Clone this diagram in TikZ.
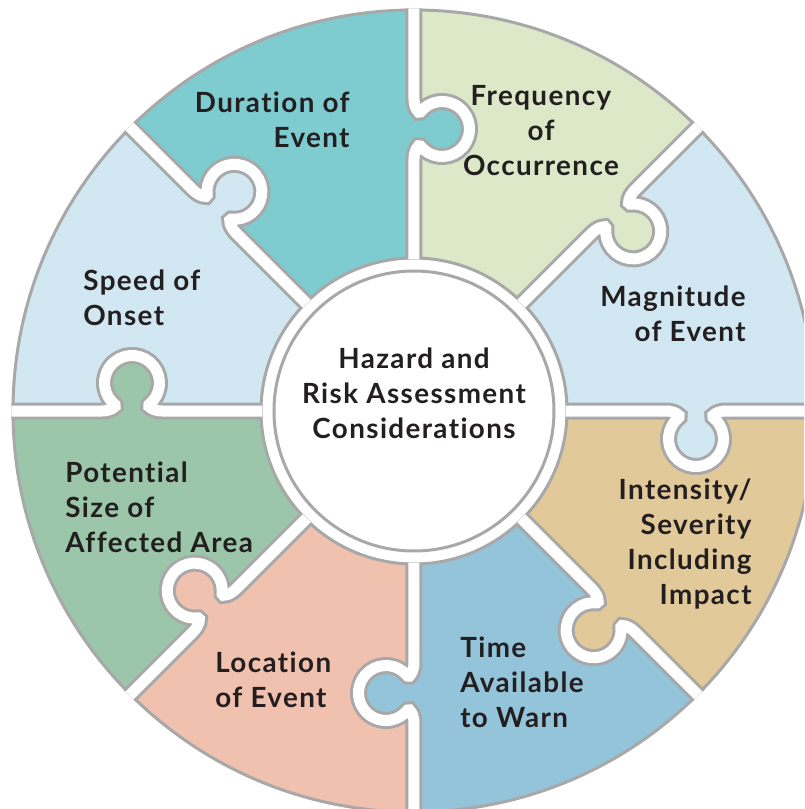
\documentclass[tikz,border=0pt]{standalone}
\usepackage{fontspec}
\setmainfont{Lato}[Ligatures=NoCommon,LetterSpace=5]
\usepackage{tikz}

\definecolor{durcol}{RGB}{126,203,208}
\definecolor{freqcol}{RGB}{220,232,200}
\definecolor{magcol}{RGB}{209,231,242}
\definecolor{intcol}{RGB}{226,201,154}
\definecolor{timecol}{RGB}{148,196,217}
\definecolor{loccol}{RGB}{240,193,174}
\definecolor{potcol}{RGB}{155,198,169}
\definecolor{rimgray}{RGB}{168,168,168}
\definecolor{ink}{RGB}{35,31,32}

% puzzle tab along a seam, seam runs along +x
\newcommand{\tab}{(252,0) .. controls (260,0) and (267.4,-4.5) .. (265,-6.4)
  arc[start angle=128.2,end angle=411.8,radius=27.5]
  .. controls (296.6,-4.5) and (304,0) .. (312,0)}

\tikzset{lbl/.style={font=\bfseries\fontsize{13.9}{17.5}\selectfont,inner sep=0pt,text=ink}}

\begin{document}
\begin{tikzpicture}[x=0.5pt,y=0.5pt]
\useasboundingbox (-414,-398) rectangle (390,411);
\clip (-414,-398) rectangle (390,411);

% Pieces
\foreach \a/\c in {0/magcol,45/freqcol,90/durcol,135/magcol,180/potcol,225/loccol,270/timecol,315/intcol}
  \fill[\c] (\a:153) arc[start angle=\a,end angle=\a+45,radius=153] -- (\a+45:401)
    arc[start angle=\a+45,end angle=\a,radius=401] -- cycle;

% Tabs
\foreach \a/\c in {0/magcol,45/freqcol,90/durcol,135/magcol,180/potcol,225/loccol,270/timecol,315/intcol}
  \fill[\c,rotate=\a] \tab -- cycle;

% Rims
\draw[rimgray,line width=1.5pt] (0,0) circle[radius=401] (0,0) circle[radius=153];

% Seams
\foreach \a in {0,45,...,315} {
  \draw[rimgray,line width=8.5pt,rotate=\a] (151.5,0) -- \tab -- (402.5,0);
  \draw[white,line width=5.5pt,rotate=\a] (151.5,0) -- \tab -- (402.5,0);
}

% Hub
\draw[rimgray,line width=1.5pt,fill=white] (0,0) circle[radius=140];

% Labels
\node[lbl,align=center] (hub) at (0,18) {Hazard and\\Risk Assessment\\Considerations};
\node[lbl,align=right,anchor=east] (dur) at (-64,291) {Duration of\\Event};
\node[lbl,align=center] (freq) at (127,280) {Frequency\\of\\Occurrence};
\node[lbl,align=right,anchor=east] (mag) at (332,97) {Magnitude\\of Event};
\node[lbl,align=right,anchor=east] (int) at (338,-133) {Intensity/\\Severity\\Including\\Impact};
\node[lbl,align=left,anchor=west] (time) at (46,-271) {Time\\Available\\to Warn};
\node[lbl,align=left,anchor=west] (loc) at (-199,-269) {Location\\of Event};
\node[lbl,align=left,anchor=west] (pot) at (-349,-96) {Potential\\Size of\\Affected Area};
\node[lbl,align=left,anchor=west] (speed) at (-331,113) {Speed of\\Onset};
\end{tikzpicture}
\end{document}
